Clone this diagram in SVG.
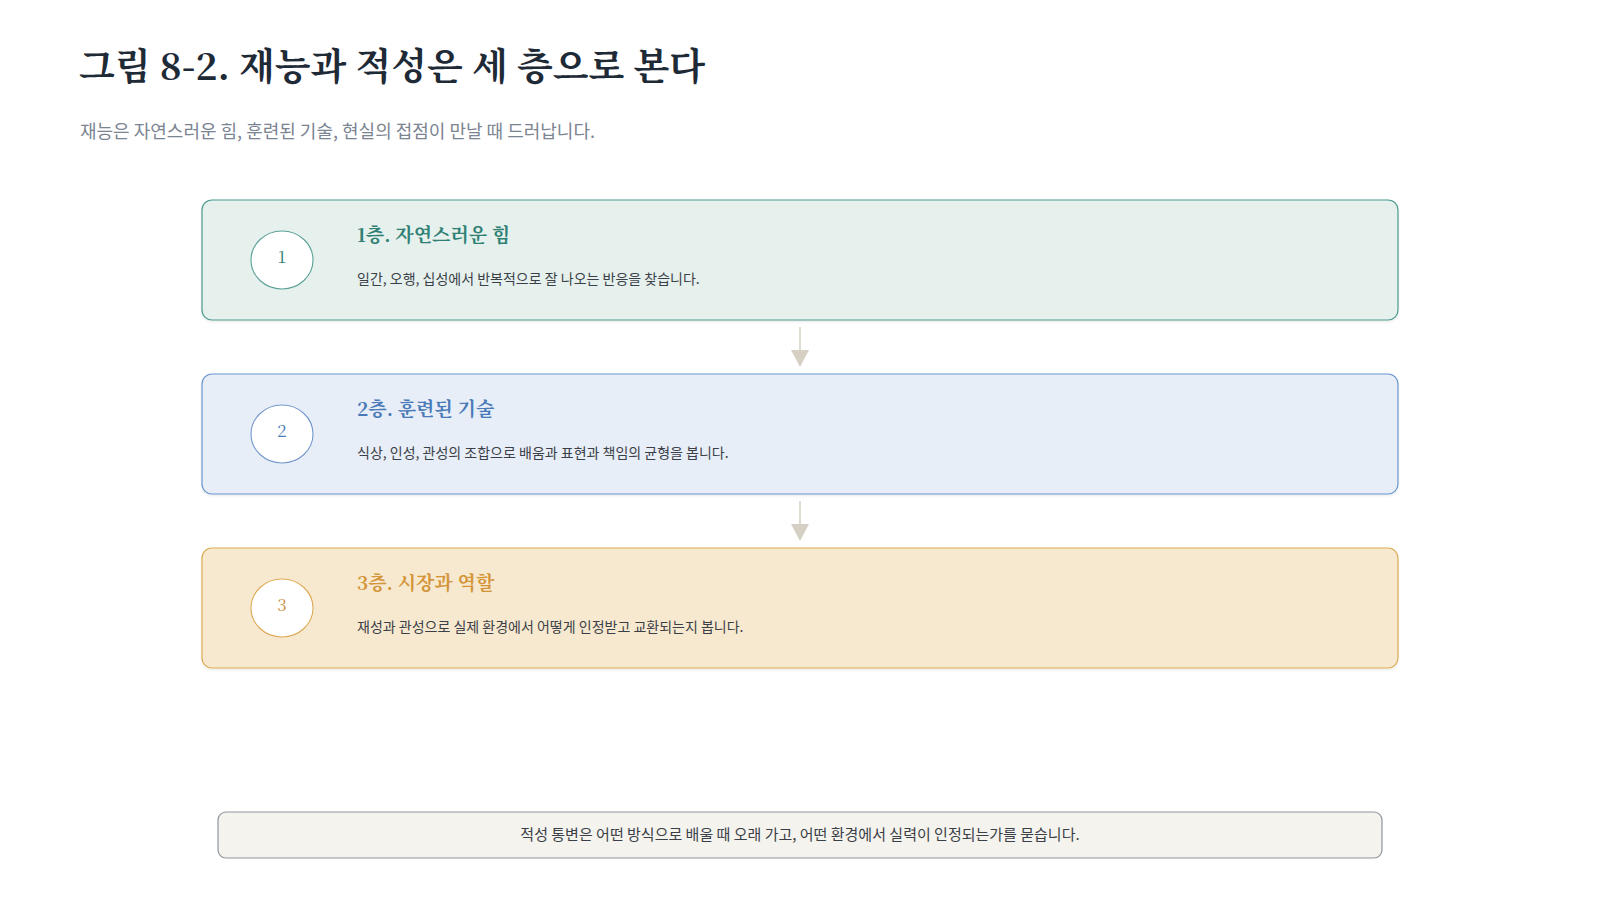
<svg xmlns="http://www.w3.org/2000/svg" width="1600" height="900" viewBox="0 0 1600 900">
  <style>
    .serif { font-family: 'Noto Serif CJK KR', 'Liberation Serif', 'Noto Sans CJK KR', serif; }
    .sans { font-family: 'Noto Sans CJK KR', 'Noto Sans', sans-serif; }
    .h1 { font-size: 37px; font-weight: 700; fill: #1f2a37; }
    .sub { font-size: 18px; fill: #7b8491; }
    .ltitle { font-size: 19px; font-weight: 700; }
    .ldesc { font-size: 14px; fill: #3b4048; }
    .num { font-size: 17px; text-anchor: middle; }
    .note { font-size: 15px; fill: #3a3f47; text-anchor: middle; }
    .conn line { stroke: #d6d0c4; stroke-width: 1.5; }
    .conn polygon { fill: #d6d0c4; }
  </style>
  <defs>
    <filter id="sh" x="-5%" y="-20%" width="110%" height="140%">
      <feDropShadow dx="0" dy="1.5" stdDeviation="1" flood-color="#000" flood-opacity="0.08"/>
    </filter>
  </defs>
  <rect width="1600" height="900" fill="#ffffff"/>

  <g id="header">
    <text class="serif h1" x="79" y="80">그림 8-2. 재능과 적성은 세 층으로 본다</text>
    <text class="sans sub" x="80" y="138">재능은 자연스러운 힘, 훈련된 기술, 현실의 접점이 만날 때 드러납니다.</text>
  </g>

  <g id="layer1">
    <rect x="202" y="200" width="1196" height="120" rx="10" fill="#e6f1ed" stroke="#4a998e" stroke-width="1.2" filter="url(#sh)"/>
    <ellipse cx="282" cy="260" rx="31" ry="29" fill="#ffffff" stroke="#5aa196" stroke-width="1.1"/>
    <text class="serif num" x="282" y="263" fill="#2f7f74">1</text>
    <text class="serif ltitle" x="357" y="242" fill="#2f8074">1층. 자연스러운 힘</text>
    <text class="sans ldesc" x="357" y="284">일간, 오행, 십성에서 반복적으로 잘 나오는 반응을 찾습니다.</text>
  </g>

  <g id="layer2">
    <rect x="202" y="374" width="1196" height="120" rx="10" fill="#e8eef7" stroke="#6a96cf" stroke-width="1.2" filter="url(#sh)"/>
    <ellipse cx="282" cy="434" rx="31" ry="29" fill="#ffffff" stroke="#7399cc" stroke-width="1.1"/>
    <text class="serif num" x="282" y="437" fill="#4a7ab8">2</text>
    <text class="serif ltitle" x="357" y="416" fill="#4a7ab8">2층. 훈련된 기술</text>
    <text class="sans ldesc" x="357" y="458">식상, 인성, 관성의 조합으로 배움과 표현과 책임의 균형을 봅니다.</text>
  </g>

  <g id="layer3">
    <rect x="202" y="548" width="1196" height="120" rx="10" fill="#f7e9cf" stroke="#ddaa55" stroke-width="1.2" filter="url(#sh)"/>
    <ellipse cx="282" cy="608" rx="31" ry="29" fill="#ffffff" stroke="#ddaa55" stroke-width="1.1"/>
    <text class="serif num" x="282" y="611" fill="#c98f3a">3</text>
    <text class="serif ltitle" x="357" y="590" fill="#d4953a">3층. 시장과 역할</text>
    <text class="sans ldesc" x="357" y="632">재성과 관성으로 실제 환경에서 어떻게 인정받고 교환되는지 봅니다.</text>
  </g>

  <g id="connectors" class="conn">
    <line x1="800" y1="327" x2="800" y2="351"/>
    <polygon points="791,350 809,350 800,367"/>
    <line x1="800" y1="501" x2="800" y2="525"/>
    <polygon points="791,524 809,524 800,541"/>
  </g>

  <g id="note">
    <rect x="218" y="812" width="1164" height="46" rx="8" fill="#f5f3ee" stroke="#8f949c" stroke-width="1.2"/>
    <text class="sans note" x="800" y="840">적성 통변은 어떤 방식으로 배울 때 오래 가고, 어떤 환경에서 실력이 인정되는가를 묻습니다.</text>
  </g>
</svg>
